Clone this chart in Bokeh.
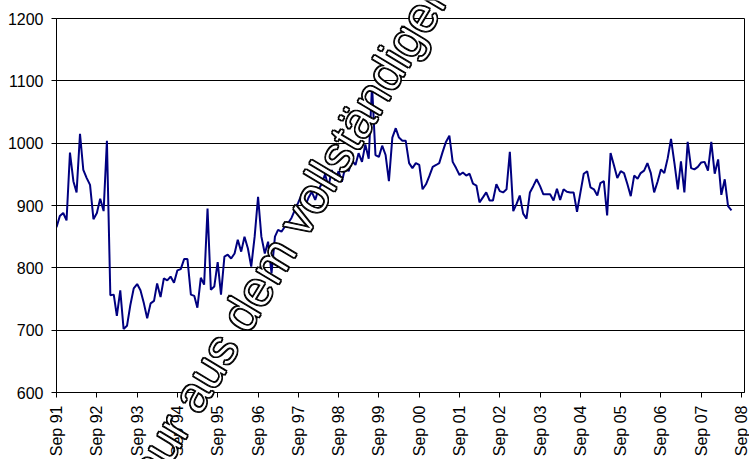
import numpy as np
import pandas as pd
from bokeh.plotting import figure
from bokeh.layouts import column
from bokeh.models import FixedTicker, Label, Range1d
from bokeh.embed import file_html
from bokeh.resources import INLINE

# ---- data -------------------------------------------------------------
first_month = "1991-09-01"
values = [
    865, 883, 888, 876, 985, 939, 921, 1015, 957, 944, 933, 878,
    888, 911, 891, 1004, 756, 757, 723, 764, 702, 707, 740, 767,
    774, 764, 743, 719, 743, 747, 775, 753, 783, 780, 786, 776,
    796, 798, 814, 814, 757, 755, 736, 784, 773, 895, 765, 770,
    809, 757, 818, 821, 815, 823, 845, 826, 850, 831, 802, 850,
    914, 850, 823, 842, 791, 850, 861, 858, 866, 872, 880, 893,
    905, 918, 898, 912, 922, 909, 925, 935, 950, 930, 957, 940,
    955, 938, 962, 955, 972, 965, 984, 970, 998, 975, 1093, 981,
    978, 996, 981, 939, 1009, 1024, 1009, 1004, 1004, 968, 960, 968,
    965, 926, 934, 947, 962, 965, 968, 986, 1002, 1012, 970, 960,
    949, 953, 948, 951, 935, 932, 905, 913, 921, 908, 908, 934,
    923, 921, 926, 986, 891, 903, 916, 887, 879, 921, 931, 942,
    931, 918, 918, 918, 908, 927, 909, 926, 922, 921, 921, 890,
    921, 951, 955, 929, 926, 916, 936, 939, 884, 984, 965, 944,
    955, 952, 934, 915, 948, 943, 952, 956, 968, 952, 921, 938,
    958, 952, 976, 1007, 968, 926, 971, 921, 1002, 960, 958, 962,
    969, 970, 956, 1002, 951, 974, 917, 942, 899, 892,
]
tick_dates = [f"{y}-09-01" for y in range(1991, 2009)]
tick_labels = ["Sep 91", "Sep 92", "Sep 93", "Sep 94", "Sep 95", "Sep 96",
               "Sep 97", "Sep 98", "Sep 99", "Sep 00", "Sep 01", "Sep 02",
               "Sep 03", "Sep 04", "Sep 05", "Sep 06", "Sep 07", "Sep 08"]
y_ticks = [600, 700, 800, 900, 1000, 1100, 1200]
watermark = "nur aus dem vollständigen"

# ---- helpers ----------------------------------------------------------
def ms(d):
    return pd.Timestamp(d).value / 1e6

dates = pd.date_range(start=first_month, periods=len(values), freq="MS")
tick_ms = [ms(d) for d in tick_dates]

FONT = "Liberation Sans"
W, H = 749, 459

p = figure(width=W, height=H, x_axis_type="datetime",
           output_backend="svg", toolbar_location=None,
           x_range=Range1d(ms(first_month), ms("2008-09-27")),
           y_range=Range1d(600, 1200),
           min_border_left=56, min_border_right=5,
           min_border_top=18, min_border_bottom=65)

p.background_fill_color = "white"
p.border_fill_color = "white"
p.outline_line_color = "black"
p.outline_line_width = 1

p.line(dates, values, line_color="#000080", line_width=2)

# axes
p.xaxis.ticker = FixedTicker(ticks=tick_ms)
p.xaxis.major_label_overrides = {t: lab for t, lab in zip(tick_ms, tick_labels)}
p.xaxis.major_label_orientation = np.pi / 2
p.yaxis.ticker = FixedTicker(ticks=y_ticks)

for ax in (p.xaxis[0], p.yaxis[0]):
    ax.axis_line_color = "black"
    ax.axis_line_width = 1
    ax.major_tick_line_color = "black"
    ax.major_tick_in = 0
    ax.major_tick_out = 5
    ax.minor_tick_line_color = None
    ax.major_label_text_font = FONT
    ax.major_label_text_font_size = "16px"
    ax.major_label_text_color = "black"
    ax.major_label_standoff = 8

p.xgrid.grid_line_color = None
p.ygrid.ticker = FixedTicker(ticks=y_ticks)
p.ygrid.grid_line_color = "black"
p.ygrid.grid_line_width = 1

# ---- watermark overlay: transparent figure over the whole canvas --------
wm = figure(width=W, height=H, output_backend="svg", toolbar_location=None,
            x_range=Range1d(0, W), y_range=Range1d(0, H),
            x_axis_location=None, y_axis_location=None,
            min_border=0)
wm.grid.visible = False
wm.background_fill_alpha = 0
wm.border_fill_alpha = 0
wm.outline_line_color = None
wm.margin = (-H, 0, 0, 0)

wm_kw = dict(x=91.6, y=-21.6, text=watermark, angle=np.deg2rad(59),
             text_font=FONT, text_font_size="50px",
             text_align="left", text_baseline="alphabetic")
# thick dark rim: a few slightly shifted dark copies under the white text
for dx, dy in [(1, 1), (1, -1), (-1, 1), (-1, -1)]:
    wm.add_layout(Label(x_offset=dx, y_offset=dy, text_color="black", **wm_kw))
wm.add_layout(Label(text_color="white", text_outline_color="black", **wm_kw))

layout = column(p, wm)
open("out.html", "w").write(file_html(layout, INLINE))
